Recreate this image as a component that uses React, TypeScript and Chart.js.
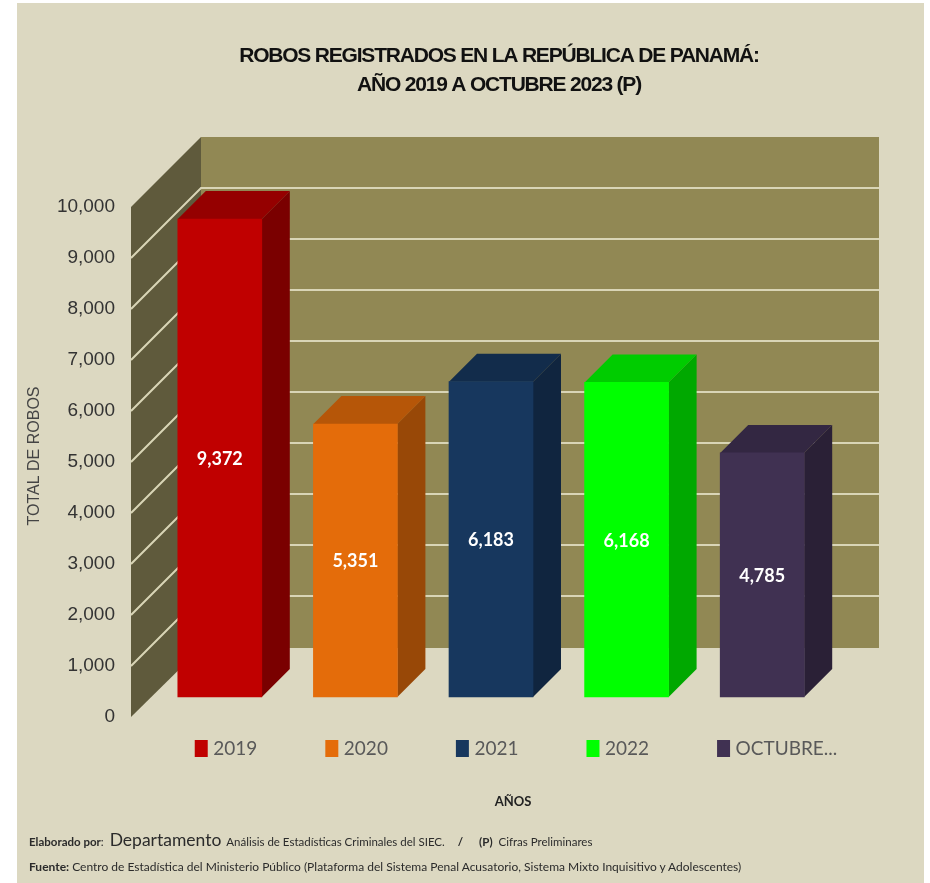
import React, { useEffect, useRef } from "react";
import { Chart, registerables } from "chart.js";

Chart.register(...registerables);

const categories = ["2019", "2020", "2021", "2022", "OCTUBRE..."];
const robos = [9372, 5351, 6183, 6168, 4785];
const frontColors = ["#c00000", "#e46c0a", "#17375e", "#00ff00", "#403152"];
const topColors = ["#950000", "#b65608", "#122c4b", "#00cc00", "#332742"];
const sideColors = ["#7a0000", "#984807", "#10253f", "#00a800", "#2a2036"];
const titleLines = ["ROBOS REGISTRADOS EN LA REPÚBLICA DE PANAMÁ:", "AÑO 2019 A OCTUBRE 2023 (P)"];

const WALL_DEPTH = 70;
const BAR_DEPTH = 28;
const BAR_SHIFT_X = 21;
const BAR_SHIFT_Y = 20;

const poly = (ctx: CanvasRenderingContext2D, color: string, pts: number[][]) => {
  ctx.fillStyle = color;
  ctx.beginPath();
  pts.forEach((p, i) => (i ? ctx.lineTo(p[0], p[1]) : ctx.moveTo(p[0], p[1])));
  ctx.closePath();
  ctx.fill();
};

const threeD = {
  id: "threeD",
  afterLayout(chart: any) {
    const t = chart.titleBlock;
    t.left += 82;
    t.right += 82;
    const origDraw = t.draw;
    t.draw = function () {
      const c = this.ctx;
      c.save();
      c.letterSpacing = "-1.2px";
      origDraw.call(this);
      c.restore();
    };
    const l = chart.legend;
    l.left += 101;
    l.right += 101;
    l.top = 667;
    const x = chart.scales.x;
    x.left += 43;
    x.right += 43;
    x.bottom = 814;
    const y = chart.scales.y;
    y.top -= 6;
    y.bottom -= 6;
  },
  beforeDatasetsDraw(chart: any) {
    const { ctx, chartArea: a, scales } = chart;
    const y = scales.y;
    const d = WALL_DEPTH;
    const y0 = y.getPixelForValue(0);
    const yMax = y.getPixelForValue(10000);
    ctx.save();
    poly(ctx, "#918854", [[a.left + d, yMax - d], [a.right + d, yMax - d], [a.right + d, y0 - d + 1], [a.left + d, y0 - d + 1]]);
    poly(ctx, "#5f5a3c", [[a.left, yMax], [a.left + d, yMax - d], [a.left + d, y0 - d + 1], [a.left, y0]]);
    ctx.strokeStyle = "#d9d5b6";
    ctx.lineWidth = 2;
    for (let v = 1000; v <= 9000; v += 1000) {
      const p = y.getPixelForValue(v);
      ctx.beginPath();
      ctx.moveTo(a.left, p);
      ctx.lineTo(a.left + d, p - d);
      ctx.lineTo(a.right + d, p - d);
      ctx.stroke();
    }
    const bars = chart.getDatasetMeta(0).data;
    bars.forEach((b: any, i: number) => {
      const l = b.x - b.width / 2 + BAR_SHIFT_X;
      const r = b.x + b.width / 2 + BAR_SHIFT_X;
      const t = b.y - BAR_SHIFT_Y;
      const bt = b.base - BAR_SHIFT_Y;
      const k = BAR_DEPTH;
      poly(ctx, sideColors[i], [[r, t], [r + k, t - k], [r + k, bt - k], [r, bt]]);
      poly(ctx, topColors[i], [[l, t], [l + k, t - k], [r + k, t - k], [r, t]]);
    });
    ctx.restore();
    ctx.save();
    ctx.translate(BAR_SHIFT_X, -BAR_SHIFT_Y);
  },
  afterDatasetsDraw(chart: any) {
    const { ctx } = chart;
    ctx.restore();
    ctx.save();
    ctx.fillStyle = "#ffffff";
    ctx.font = "bold 18px Lato";
    ctx.textAlign = "center";
    ctx.textBaseline = "middle";
    chart.getDatasetMeta(0).data.forEach((b: any, i: number) => {
      const cy = (b.y + b.base) / 2 - BAR_SHIFT_Y;
      ctx.fillText(robos[i].toLocaleString("en-US"), b.x + BAR_SHIFT_X, cy + 1);
    });
    ctx.restore();
  },
};

const lineStyle: React.CSSProperties = {
  position: "absolute",
  left: 29,
  whiteSpace: "nowrap",
  fontFamily: "Lato",
  color: "#2b2b2b",
};

export default function App() {
  const ref = useRef<HTMLCanvasElement>(null);
  useEffect(() => {
    document.body.style.margin = "0";
    document.body.style.background = "#ffffff";
    const chart = new Chart(ref.current!, {
      type: "bar",
      data: {
        labels: categories,
        datasets: [
          {
            label: "Robos",
            data: robos,
            backgroundColor: frontColors,
            borderWidth: 0,
            barThickness: 84,
            clip: false,
          } as any,
        ],
      },
      plugins: [threeD],
      options: {
        animation: false,
        responsive: false,
        events: [],
        layout: { padding: { left: 25, right: 121, top: 0, bottom: 0 } },
        plugins: {
          tooltip: { enabled: false },
          title: {
            display: true,
            text: titleLines,
            color: "#111111",
            font: { family: "'Liberation Sans'", weight: "bold", size: 21, lineHeight: 1.38 },
            padding: { top: 42, bottom: 107 },
          },
          legend: {
            display: true,
            position: "bottom",
            labels: {
              boxWidth: 5,
              boxHeight: 9,
              padding: 72,
              color: "#595959",
              font: { family: "Lato", size: 19 },
              generateLabels: () =>
                categories.map((c, i) => ({
                  text: c,
                  fillStyle: frontColors[i],
                  strokeStyle: frontColors[i],
                  lineWidth: 8,
                  lineJoin: "miter",
                  fontColor: "#595959",
                  index: i,
                })),
            },
          },
        },
        scales: {
          x: {
            grid: { display: false },
            border: { display: false },
            ticks: { display: false },
            title: {
              display: true,
              text: "AÑOS",
              color: "#222222",
              font: { family: "Lato", weight: "bold", size: 13 },
              padding: { top: 0, bottom: 4 },
            },
            afterFit: (s: any) => {
              s.height = 65;
            },
          },
          y: {
            min: 0,
            max: 10000,
            grid: { display: false },
            border: { display: false },
            ticks: {
              stepSize: 1000,
              padding: 8,
              color: "#333333",
              font: { family: "'Liberation Sans'", size: 19 },
              callback: (v: any) => Number(v).toLocaleString("en-US"),
            },
            title: {
              display: true,
              text: "TOTAL DE ROBOS",
              color: "#444444",
              font: { family: "'Liberation Sans'", size: 16 },
              padding: 0,
            },
            afterFit: (s: any) => {
              s.width = 106;
            },
          },
        },
      } as any,
    });
    return () => chart.destroy();
  }, []);
  return (
    <div style={{ position: "absolute", left: 0, top: 0, width: 930, height: 883, overflow: "hidden" }}>
      <div style={{ position: "absolute", left: 17, top: 3, width: 907, height: 880, background: "#dcd8c1" }} />
      <canvas ref={ref} width={930} height={883} style={{ position: "absolute", left: 0, top: 0, display: "block" }} />
      <div style={{ ...lineStyle, top: 827, height: 26, lineHeight: "26px", fontSize: 11.5 }}>
        <b>Elaborado por</b>: <span style={{ fontSize: 17.5, marginLeft: 3 }}>Departamento</span>
        <span style={{ marginLeft: 5 }}>Análisis de Estadísticas Criminales del SIEC.</span>
        <b style={{ marginLeft: 13 }}>/</b>
        <b style={{ marginLeft: 16 }}>(P)</b>
        <span style={{ marginLeft: 6 }}>Cifras Preliminares</span>
      </div>
      <div style={{ ...lineStyle, top: 857, height: 20, lineHeight: "20px", fontSize: 12 }}>
        <b>Fuente:</b> Centro de Estadística del Ministerio Público (Plataforma del Sistema Penal Acusatorio, Sistema Mixto Inquisitivo y Adolescentes)
      </div>
    </div>
  );
}
